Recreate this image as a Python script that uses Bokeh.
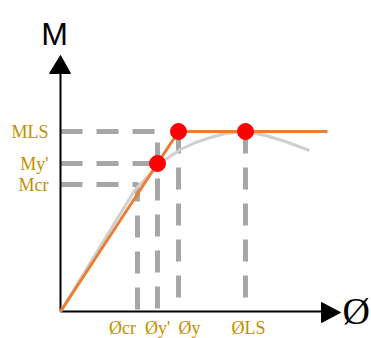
from bokeh.plotting import figure
from bokeh.models import Range1d, ColumnDataSource
from bokeh.core.properties import value
from bokeh.embed import file_html
from bokeh.resources import INLINE

# Characteristic curvatures (phi) and moments (M)
phi_names = ["Øcr", "Øy'", "Øy", "ØLS"]
phi_vals = [77, 97, 118, 185]
m_names = ["MLS", "My'", "Mcr"]
m_vals = [180, 148, 127]

phi_cr, phi_yp, phi_y, phi_ls = phi_vals
m_ls, m_yp, m_cr = m_vals
phi_end = 267

# Idealised bilinear response (orange)
bilin_phi = [0, phi_yp, phi_y, phi_end]
bilin_m = [0, m_yp, m_ls, m_ls]

# Actual moment-curvature response (grey)
curve_phi = [0, 74, 90, 105, 120, 135, 150, 165, 185, 205, 225, 249]
curve_m = [0, 121, 138, 152, 162, 169, 174, 178, 180, 176, 170, 161]

# Key points (red)
key_phi = [phi_yp, phi_y, phi_ls]
key_m = [m_yp, m_ls, m_ls]

GOLD = "#BF9000"
DASH = "#A6A6A6"

p = figure(width=371, height=338, output_backend="svg", toolbar_location=None,
           x_range=Range1d(-60, 311), y_range=Range1d(-27, 311),
           min_border=0, outline_line_color=None)
p.axis.visible = False
p.grid.visible = False
p.background_fill_color = "white"
p.border_fill_color = "white"

dash_kw = dict(line_color=DASH, line_width=5, line_dash="22 14", line_cap="butt")
# reference lines to the axes
p.line([0, phi_cr, phi_cr], [m_cr, m_cr, 0], **dash_kw)
p.line([0, phi_yp, phi_yp], [m_ls, m_ls, 0], **dash_kw)
p.line([0, phi_yp], [m_yp, m_yp], **dash_kw)
p.line([phi_y, phi_y], [m_ls, 0], **dash_kw)
p.line([phi_ls, phi_ls], [m_ls, 0], **dash_kw)

# axes with arrow heads
p.line([0, 0], [0, 238], line_color="black", line_width=2)
p.line([0, 261], [0, 0], line_color="black", line_width=2)
p.patch([-11, 10, 0], [238, 238, 256], fill_color="black", line_color="black")
p.patch([261, 261, 280], [9, -11, -1], fill_color="black", line_color="black")

p.line(curve_phi, curve_m, line_color="#D0D0D0", line_width=3, line_join="round")
p.line(bilin_phi, bilin_m, line_color="#ED7D31", line_width=3)
p.scatter(key_phi, key_m, size=16, fill_color="#FF0000", line_color="#FF0000")

# axis titles
p.text([-6], [278], text=["M"], text_font=value("Liberation Sans"),
       text_font_size="32px", text_align="center", text_baseline="alphabetic",
       text_color="black")
p.text([282], [1], text=["Ø"], text_font=value("Liberation Serif"),
       text_font_size="38px", text_align="left", text_baseline="middle",
       text_color="black")

# moment labels
p.text([-12] * len(m_vals), m_vals, text=m_names, text_font=value("Liberation Serif"),
       text_font_size="18px", text_align="right", text_baseline="middle",
       text_color=GOLD)

# curvature labels
label_shift = [-15, 0, 11, 3]
src = ColumnDataSource(dict(x=[v + s for v, s in zip(phi_vals, label_shift)],
                            y=[-16] * len(phi_vals), t=phi_names))
p.text("x", "y", text="t", source=src, text_font=value("Liberation Serif"),
       text_font_size="18px", text_align="center", text_baseline="middle",
       text_color=GOLD)

open("out.html", "w").write(file_html(p, INLINE))
